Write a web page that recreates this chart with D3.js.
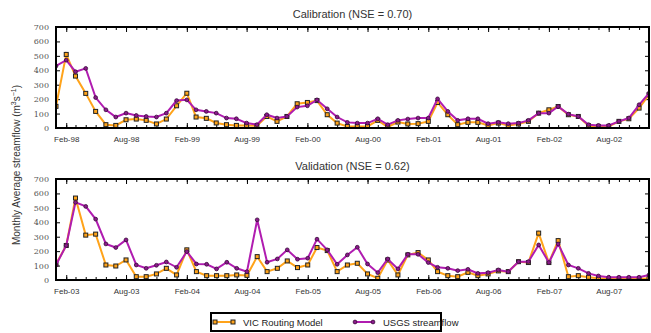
<!DOCTYPE html>
<html>
<head>
<meta charset="utf-8">
<script src="https://cdn.jsdelivr.net/npm/d3@7"></script>
<style>
  body { margin: 0; background: #fff; }
  svg { display: block; }
</style>
</head>
<body>
<div class="chart"></div>
<script>
// Paramètres
const width = 651;
const height = 333;
const plotLeft = 56;
const plotRight = 649;

// Données (m3/s), une valeur par mois
const calStart = [1998, 0];
const valStart = [2003, 0];
const nMonths = 60;

const calVIC = [150, 510, 360, 240, 115, 23, 18, 57, 62, 53, 28, 62, 154, 241, 76, 67, 35, 23, 18, 18,
  16, 80, 46, 80, 168, 177, 190, 92, 34, 11, 11, 11, 53, 7, 41, 28, 30, 46, 177, 92,
  23, 39, 39, 18, 34, 18, 28, 46, 103, 126, 149, 92, 80, 16, 11, 11, 46, 64, 138, 230];
const calUSGS = [430, 470, 390, 413, 211, 126, 76, 103, 87, 80, 76, 103, 190, 195, 126, 115, 103, 69, 64, 34,
  23, 92, 69, 80, 145, 154, 195, 133, 76, 39, 34, 34, 64, 23, 53, 62, 69, 69, 202, 115,
  53, 64, 64, 30, 39, 30, 34, 53, 103, 103, 149, 96, 80, 23, 18, 18, 46, 69, 161, 241];

const valVIC = [110, 239, 568, 311, 318, 104, 97, 139, 23, 23, 42, 81, 35, 209, 58, 30, 30, 30, 35, 32,
  162, 58, 81, 132, 86, 104, 225, 204, 58, 104, 116, 42, 12, 139, 35, 174, 190, 139, 58, 30,
  23, 53, 30, 42, 63, 58, 127, 121, 325, 121, 273, 23, 30, 19, 12, 7, 7, 7, 7, 12];
const valUSGS = [104, 239, 538, 510, 422, 250, 225, 278, 104, 81, 102, 125, 88, 197, 111, 109, 77, 123, 81, 58,
  417, 123, 146, 209, 144, 151, 283, 209, 109, 174, 227, 111, 51, 146, 77, 178, 178, 121, 88, 81,
  65, 74, 46, 51, 70, 58, 127, 127, 243, 121, 250, 104, 81, 46, 28, 19, 19, 19, 19, 35];

const yTicks = [0, 100, 200, 300, 400, 500, 600, 700];
const calTickLabels = ['Feb-98', 'Aug-98', 'Feb-99', 'Aug-99', 'Feb-00', 'Aug-00', 'Feb-01', 'Aug-01', 'Feb-02', 'Aug-02'];
const valTickLabels = ['Feb-03', 'Aug-03', 'Feb-04', 'Aug-04', 'Feb-05', 'Aug-05', 'Feb-06', 'Aug-06', 'Feb-07', 'Aug-07'];

const seriesNames = ['VIC Routing Model', 'USGS streamflow'];
const colorVIC = '#ffa31a';
const colorUSGS = '#b01cb0';

const svg = d3.select('.chart')
  .append('svg')
  .attr('width', width)
  .attr('height', height)
  .style('font-family', 'Liberation Sans, Arial, sans-serif');

function drawPanel(title, start, vic, usgs, tickLabels, top, bottom) {
  const months = d3.utcMonth.range(new Date(Date.UTC(start[0], start[1], 1)),
    new Date(Date.UTC(start[0], start[1] + nMonths, 1)));

  const x = d3.scaleUtc()
    .domain([months[0], months[months.length - 1]])
    .range([plotLeft, plotRight]);
  const y = d3.scaleLinear()
    .domain([0, 700])
    .range([bottom, top]);

  const g = svg.append('g');

  // Titre
  g.append('text')
    .attr('x', (plotLeft + plotRight) / 2)
    .attr('y', top - 9)
    .attr('text-anchor', 'middle')
    .attr('font-size', 11)
    .attr('fill', '#333')
    .text(title);

  // Ticks mensuels (haut et bas, vers l'intérieur)
  const majorMonths = months.filter(d => d.getUTCMonth() === 1 || d.getUTCMonth() === 7);
  const minor = d3.axisBottom(x).tickValues(months).tickSize(-3).tickFormat('');
  const major = d3.axisBottom(x).tickValues(majorMonths).tickSize(-5)
    .tickFormat((d, i) => tickLabels[i]).tickPadding(8);

  g.append('g').attr('transform', `translate(0,${bottom})`).call(minor)
    .call(a => a.select('.domain').remove());
  g.append('g').attr('transform', `translate(0,${bottom})`).call(major)
    .call(a => a.select('.domain').remove())
    .call(a => a.selectAll('text').attr('font-size', 8).attr('fill', '#333')
      .attr('font-family', 'Liberation Sans, Arial, sans-serif'));
  g.append('g').attr('transform', `translate(0,${top})`)
    .call(d3.axisTop(x).tickValues(months).tickSize(-3).tickFormat(''))
    .call(a => a.select('.domain').remove());
  g.append('g').attr('transform', `translate(0,${top})`)
    .call(d3.axisTop(x).tickValues(majorMonths).tickSize(-5).tickFormat(''))
    .call(a => a.select('.domain').remove());

  // Axe vertical
  g.append('g').attr('transform', `translate(${plotLeft},0)`)
    .call(d3.axisLeft(y).tickValues(yTicks).tickSize(-4).tickPadding(7))
    .call(a => a.select('.domain').remove())
    .call(a => a.selectAll('text').attr('font-size', 8).attr('fill', '#555')
      .attr('font-family', 'DejaVu Serif, serif'));
  g.append('g').attr('transform', `translate(${plotRight},0)`)
    .call(d3.axisRight(y).tickValues(yTicks).tickSize(-4).tickFormat(''))
    .call(a => a.select('.domain').remove());

  g.selectAll('.tick line').attr('stroke', '#000');

  // Séries
  const clipId = 'clip' + top;
  g.append('clipPath').attr('id', clipId)
    .append('rect')
    .attr('x', plotLeft).attr('y', top - 6)
    .attr('width', plotRight - plotLeft).attr('height', bottom - top + 6);

  const line = d3.line()
    .x((d, i) => x(months[i]))
    .y(d => y(d));

  const series = g.append('g').attr('clip-path', `url(#${clipId})`);

  series.append('path')
    .datum(vic)
    .attr('fill', 'none')
    .attr('stroke', colorVIC)
    .attr('stroke-width', 2)
    .attr('d', line);
  series.append('g').selectAll('rect')
    .data(vic)
    .join('rect')
    .attr('x', (d, i) => x(months[i]) - 2)
    .attr('y', d => y(d) - 2)
    .attr('width', 4)
    .attr('height', 4)
    .attr('fill', colorVIC)
    .attr('stroke', '#222')
    .attr('stroke-width', 1);

  series.append('path')
    .datum(usgs)
    .attr('fill', 'none')
    .attr('stroke', colorUSGS)
    .attr('stroke-width', 2)
    .attr('d', line);
  series.append('g').selectAll('circle')
    .data(usgs)
    .join('circle')
    .attr('cx', (d, i) => x(months[i]))
    .attr('cy', d => y(d))
    .attr('r', 1.9)
    .attr('fill', '#8a1a8a')
    .attr('stroke', '#3a0a3a')
    .attr('stroke-width', 0.8);

  // Cadre
  g.append('rect')
    .attr('x', plotLeft).attr('y', top)
    .attr('width', plotRight - plotLeft).attr('height', bottom - top)
    .attr('fill', 'none')
    .attr('stroke', '#000')
    .attr('stroke-width', 2);
}

drawPanel('Calibration (NSE = 0.70)', calStart, calVIC, calUSGS, calTickLabels, 27, 128);
drawPanel('Validation (NSE = 0.62)', valStart, valVIC, valUSGS, valTickLabels, 179, 280);

// Titre de l'axe vertical
const yLabel = svg.append('text')
  .attr('transform', 'translate(20,165) rotate(-90)')
  .attr('text-anchor', 'middle')
  .attr('font-size', 10)
  .attr('fill', '#333');
yLabel.append('tspan').text('Monthly Average streamflow (m');
yLabel.append('tspan').attr('font-size', 7).attr('dy', -4).text('3');
yLabel.append('tspan').attr('dy', 4).text('s');
yLabel.append('tspan').attr('font-size', 7).attr('dy', -4).text('\u22121');
yLabel.append('tspan').attr('dy', 4).text(')');

// Légende
const legend = svg.append('g');
legend.append('rect')
  .attr('x', 211).attr('y', 313)
  .attr('width', 230).attr('height', 18)
  .attr('fill', '#fff')
  .attr('stroke', '#000')
  .attr('stroke-width', 2);

const legendItems = [
  { name: seriesNames[0], color: colorVIC, x: 215, marker: 'rect' },
  { name: seriesNames[1], color: colorUSGS, x: 355, marker: 'circle' }
];
legendItems.forEach(item => {
  const ly = 322;
  legend.append('line')
    .attr('x1', item.x).attr('x2', item.x + 18)
    .attr('y1', ly).attr('y2', ly)
    .attr('stroke', item.color).attr('stroke-width', 2);
  [item.x, item.x + 18].forEach(mx => {
    if (item.marker === 'rect') {
      legend.append('rect')
        .attr('x', mx - 2).attr('y', ly - 2).attr('width', 4).attr('height', 4)
        .attr('fill', item.color).attr('stroke', '#222');
    } else {
      legend.append('circle')
        .attr('cx', mx).attr('cy', ly).attr('r', 1.9)
        .attr('fill', '#8a1a8a').attr('stroke', '#3a0a3a').attr('stroke-width', 0.8);
    }
  });
  legend.append('text')
    .attr('x', item.x + 28).attr('y', ly + 3.5)
    .attr('font-size', 9.5)
    .attr('fill', '#222')
    .text(item.name);
});
</script>
</body>
</html>
